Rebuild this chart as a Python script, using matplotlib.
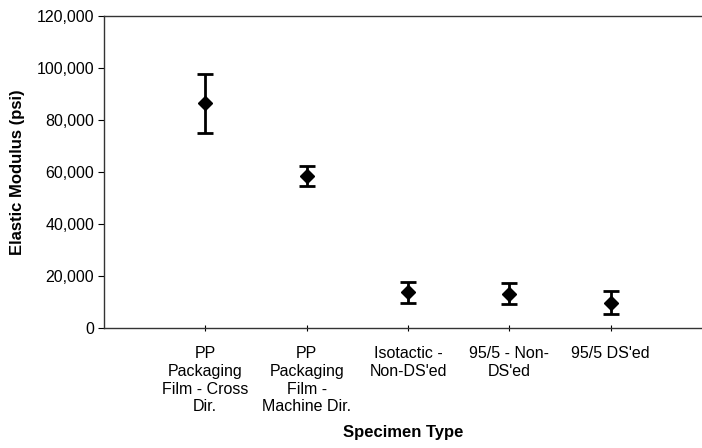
import matplotlib.pyplot as plt

plt.rcParams['font.family'] = ['Liberation Sans', 'DejaVu Sans']

categories = ['PP\nPackaging\nFilm - Cross\nDir.',
              'PP\nPackaging\nFilm -\nMachine Dir.',
              'Isotactic -\nNon-DS\'ed',
              '95/5 - Non-\nDS\'ed',
              '95/5 DS\'ed']
modulus = [86400, 58500, 13600, 13100, 9600]
err_low = [74800, 54700, 9600, 9000, 5300]
err_high = [97800, 62200, 17500, 17100, 14000]

x = list(range(1, len(categories) + 1))
yerr = [[m - lo for m, lo in zip(modulus, err_low)],
        [hi - m for m, hi in zip(modulus, err_high)]]

fig = plt.figure(figsize=(7.02, 4.48), dpi=100)
ax = fig.add_axes([0.148, 0.2685, 0.852, 0.6955])

ax.errorbar(x, modulus, yerr=yerr, fmt='D', color='black', ms=7,
            ecolor='black', elinewidth=2, capsize=6, capthick=2)

ax.set_xlim(0, 5.9)
ax.set_ylim(0, 120000)
ax.set_yticks(range(0, 120001, 20000))
ax.set_yticklabels(['{:,}'.format(v) for v in range(0, 120001, 20000)])
ax.set_xticks(x)
ax.set_xticklabels(categories, va='top', linespacing=1.22)

ax.tick_params(axis='y', direction='out', length=4, width=0.8, labelsize=11.5, pad=3)
ax.tick_params(axis='x', direction='inout', length=5, width=0.8, labelsize=11.5, pad=11, colors='black')

for s in ['top', 'left', 'bottom']:
    ax.spines[s].set_color('#333333')
    ax.spines[s].set_linewidth(1.0)
ax.spines['right'].set_visible(False)

ax.set_ylabel('Elastic Modulus (psi)', fontsize=12, fontweight='bold', labelpad=8)
ax.set_xlabel('Specimen Type', fontsize=12, fontweight='bold', labelpad=8)

plt.savefig('out.png', dpi=100)
